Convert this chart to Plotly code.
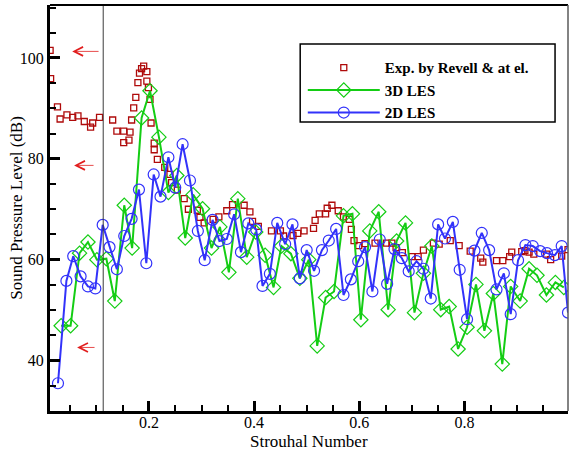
import plotly.graph_objs as go

# Experimental data (Revell et al.)
exp_st = [0.012, 0.013, 0.026, 0.031, 0.044, 0.055, 0.065, 0.077, 0.089, 0.093,
          0.106, 0.131, 0.139, 0.152, 0.164, 0.152, 0.162, 0.167, 0.171, 0.175,
          0.179, 0.182, 0.186, 0.190, 0.196, 0.196, 0.199, 0.202, 0.204, 0.210,
          0.210, 0.216, 0.230, 0.240, 0.243, 0.254, 0.267, 0.275, 0.292, 0.297,
          0.305, 0.322, 0.333, 0.348, 0.359, 0.381, 0.392, 0.397, 0.408, 0.433,
          0.450, 0.456, 0.474, 0.483, 0.495, 0.513, 0.516, 0.524, 0.536, 0.539,
          0.548, 0.560, 0.570, 0.581, 0.585, 0.590, 0.599, 0.611, 0.630, 0.652,
          0.662, 0.670, 0.682, 0.700, 0.712, 0.722, 0.741, 0.752, 0.773, 0.790,
          0.811, 0.831, 0.835, 0.861, 0.873, 0.886, 0.890, 0.909, 0.915, 0.923,
          0.932, 0.956, 0.964, 0.985, 0.997]
exp_spl = [101.5, 95.9, 90.3, 87.9, 88.7, 88.2, 88.5, 87.4, 86.3, 87.1,
           88.2, 87.7, 85.5, 85.5, 85.3, 83.2, 83.7, 87.7, 90.1, 92.2,
           95.1, 97.0, 97.9, 98.4, 97.3, 95.4, 94.1, 91.8, 87.1, 83.1,
           81.8, 79.9, 78.3, 76.9, 75.3, 73.8, 72.1, 70.0, 69.8, 68.4,
           67.3, 68.0, 68.5, 69.7, 70.9, 70.8, 69.5, 67.6, 66.6, 65.7,
           65.7, 64.7, 64.8, 65.2, 65.7, 66.2, 67.8, 69.1, 69.1, 70.2,
           70.8, 69.7, 68.5, 68.0, 66.0, 63.8, 62.8, 63.2, 63.3, 63.3,
           63.3, 62.4, 61.4, 60.6, 60.6, 61.9, 63.3, 63.1, 63.8, 62.8,
           61.7, 60.3, 59.5, 59.8, 59.8, 60.6, 61.5, 61.6, 61.8, 61.5,
           61.1, 61.1, 60.0, 60.7, 62.0]

# 3D LES
les3d_st = [0.033, 0.051, 0.068, 0.084, 0.101, 0.119, 0.135, 0.153, 0.168, 0.186,
            0.202, 0.219, 0.237, 0.253, 0.269, 0.284, 0.302, 0.319, 0.335, 0.352,
            0.369, 0.386, 0.403, 0.421, 0.437, 0.452, 0.470, 0.487, 0.504, 0.520,
            0.536, 0.552, 0.570, 0.587, 0.603, 0.620, 0.637, 0.655, 0.671, 0.688,
            0.705, 0.722, 0.738, 0.755, 0.771, 0.788, 0.805, 0.822, 0.838, 0.855,
            0.872, 0.888, 0.906, 0.923, 0.938, 0.956, 0.973, 0.989]
les3d_spl = [46.9, 46.9, 61.3, 63.5, 60.0, 60.2, 51.8, 70.8, 62.3, 88.1,
             93.5, 84.3, 73.3, 76.7, 64.3, 72.9, 70.1, 62.3, 66.5, 57.5,
             72.1, 60.5, 65.5, 60.9, 54.5, 62.7, 61.2, 56.3, 60.0, 42.9,
             52.5, 53.7, 68.7, 69.1, 48.1, 65.7, 69.5, 50.1, 63.7, 67.3,
             49.5, 57.3, 62.7, 50.1, 50.7, 42.3, 46.6, 55.1, 45.9, 53.3,
             39.3, 54.7, 51.8, 58.2, 56.9, 53.0, 55.5, 54.5]

# 2D LES
les2d_st = [0.027, 0.043, 0.056, 0.070, 0.084, 0.098, 0.112, 0.125, 0.139, 0.153,
            0.167, 0.181, 0.195, 0.209, 0.222, 0.237, 0.250, 0.264, 0.278, 0.293,
            0.306, 0.321, 0.334, 0.348, 0.362, 0.375, 0.389, 0.404, 0.416, 0.430,
            0.444, 0.459, 0.473, 0.487, 0.500, 0.514, 0.529, 0.542, 0.556, 0.570,
            0.584, 0.598, 0.611, 0.625, 0.639, 0.653, 0.667, 0.681, 0.694, 0.709,
            0.722, 0.736, 0.750, 0.763, 0.778, 0.791, 0.805, 0.819, 0.833, 0.847,
            0.861, 0.875, 0.888, 0.902, 0.916, 0.930, 0.944, 0.957, 0.972, 0.985,
            0.997]
les2d_spl = [35.5, 55.8, 60.7, 56.7, 54.7, 54.3, 66.9, 62.5, 58.1, 64.7,
             68.1, 73.9, 59.3, 76.9, 72.5, 80.3, 74.3, 82.9, 75.7, 65.7,
             59.9, 67.9, 63.7, 64.1, 69.0, 61.5, 67.2, 66.0, 54.8, 57.2,
             67.3, 63.1, 67.0, 56.3, 61.9, 57.8, 61.9, 63.8, 66.1, 53.0,
             56.1, 59.7, 62.5, 53.7, 64.0, 55.2, 62.1, 60.3, 57.7, 59.7,
             58.2, 52.3, 67.0, 64.2, 67.5, 58.0, 48.2, 61.8, 65.3, 61.9,
             54.1, 57.3, 49.2, 59.9, 62.9, 62.7, 61.7, 61.3, 60.9, 62.7,
             49.5]

# red arrows on the left (level marks)
arrow_spl = [101.3, 78.7, 42.6]
arrow_tail = [0.107, 0.0975, 0.0994]
arrow_head = [0.054, 0.0576, 0.0633]

vline_st = 0.113

serif = "Liberation Serif"
red = "rgb(175,10,10)"
arrow_red = "rgb(225,30,30)"
green = "rgb(20,205,20)"
blue = "rgb(50,50,250)"

fig = go.Figure()

fig.add_trace(go.Scatter(
    x=exp_st, y=exp_spl, mode="markers", name="Exp. by Revell & at el.",
    marker=dict(symbol="square-open", size=6, color=red, line=dict(width=1.3))
))
fig.add_trace(go.Scatter(
    x=les3d_st, y=les3d_spl, mode="lines+markers", name="3D LES",
    line=dict(color=green, width=2),
    marker=dict(symbol="diamond-open", size=11, color=green, line=dict(width=1.2))
))
fig.add_trace(go.Scatter(
    x=les2d_st, y=les2d_spl, mode="lines+markers", name="2D LES",
    line=dict(color=blue, width=2),
    marker=dict(symbol="circle-open", size=11, color=blue, line=dict(width=1.2))
))

# arrows
for yv, xt, xh in zip(arrow_spl, arrow_tail, arrow_head):
    fig.add_annotation(
        x=xh, y=yv, ax=xt, ay=yv, xref="x", yref="y", axref="x", ayref="y",
        text="", showarrow=True, arrowhead=5, arrowsize=2.2, arrowwidth=0.8,
        arrowcolor=arrow_red
    )

# axis titles
fig.add_annotation(text="Strouhal Number", xref="paper", yref="paper",
                   x=0.5, y=-0.074, xanchor="center", yanchor="middle",
                   showarrow=False, font=dict(family=serif, size=17))
fig.add_annotation(text="Sound Pressure Level (dB)", xref="paper", yref="paper",
                   x=-0.066, y=0.5, xanchor="center", yanchor="middle",
                   textangle=-90, showarrow=False, font=dict(family=serif, size=17))

# vertical line + frame top/right + legend box
fig.add_shape(type="line", xref="x", yref="paper", x0=vline_st, x1=vline_st,
              y0=0, y1=1, line=dict(color="rgb(60,60,60)", width=1))
fig.add_shape(type="line", xref="paper", yref="paper", x0=0, x1=1, y0=1, y1=1,
              line=dict(color="black", width=2))
fig.add_shape(type="line", xref="paper", yref="paper", x0=1, x1=1, y0=0, y1=1,
              line=dict(color="rgb(90,90,90)", width=1.5))
fig.add_shape(type="rect", xref="paper", yref="paper", x0=0.483, x1=0.975,
              y0=0.712, y1=0.904, line=dict(color="black", width=1.5))

fig.update_layout(
    width=569, height=450,
    margin=dict(l=50, r=1, t=5, b=39),
    paper_bgcolor="white", plot_bgcolor="white",
    font=dict(family=serif, size=16, color="black"),
    showlegend=True,
    legend=dict(
        x=0.488, y=0.886, xanchor="left", yanchor="top",
        bgcolor="rgba(0,0,0,0)", borderwidth=0,
        font=dict(family=serif, size=15, weight="bold"),
        itemwidth=72, tracegroupgap=0
    ),
    xaxis=dict(
        range=[0.0118, 0.997], showgrid=False, zeroline=False, automargin=False,
        showline=True, linecolor="black", linewidth=3,
        tickmode="array", tickvals=[0.2, 0.4, 0.6, 0.8],
        ticktext=["0.2", "0.4", "0.6", "0.8"], ticklabelstandoff=-5,
        ticks="inside", ticklen=10, tickwidth=3, tickcolor="black",
        minor=dict(dtick=0.05, tick0=0, ticks="inside", ticklen=6,
                   tickwidth=1.5, tickcolor="black")
    ),
    yaxis=dict(
        range=[30, 110.5], showgrid=False, zeroline=False, automargin=False,
        showline=True, linecolor="black", linewidth=3,
        tickmode="array", tickvals=[40, 60, 80, 100],
        ticktext=["40", "60", "80", "100"],
        ticks="inside", ticklen=10, tickwidth=3, tickcolor="black",
        minor=dict(dtick=5, tick0=0, ticks="inside", ticklen=6,
                   tickwidth=1.5, tickcolor="black")
    )
)

# page body has a default 8px margin; drop it so the figure fills the window
fig.write_html("out.html", config={"displayModeBar": False},
               post_script="document.body.style.margin='0px';")
